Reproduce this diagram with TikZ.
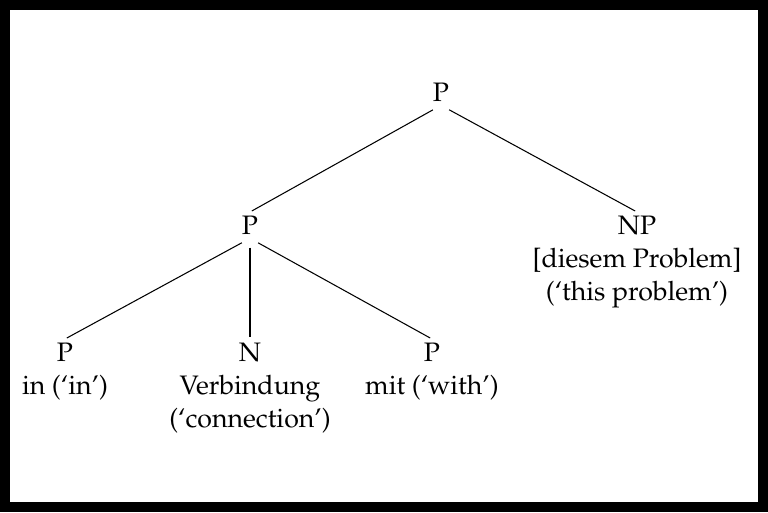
\documentclass[tikz,border=0pt]{standalone}
\usepackage[T1]{fontenc}
\usepackage{mathpazo}
\usepackage{tikz}

\tikzset{
  lbl/.style={anchor=north,align=center,inner sep=2pt,
    font=\fontsize{15.2}{18.8}\selectfont},
  edge/.style={line width=0.6pt,shorten <=5.3pt,shorten >=1.2pt}
}

\begin{document}
\begin{tikzpicture}[x=0.02cm,y=-0.02cm]
\useasboundingbox (0,0) rectangle (768,512);
% frame
\fill[black] (0,0) rectangle (768,512);
\fill[white] (10,10) rectangle (758,502);
% nodes
\node [lbl] (top) at (441,79) {P};
\node [lbl] (pp) at (250,212) {P};
\node [lbl] (np) at (637,212) {NP\\{[}diesem Problem{]}\\(`this problem')};
\node [lbl] (pin) at (65,339) {P\\in (`in')};
\node [lbl] (n) at (250,339) {N\\Verbindung\\(`connection')};
\node [lbl] (pmit) at (432,339) {P\\mit (`with')};
% branches
\draw [edge] (top.south) -- (np.north);
\draw [edge] (top.south) -- (pp.north);
\draw [edge] (pp.south) -- (pin.north);
\draw [edge] (pp.south) -- (n.north);
\draw [edge] (pp.south) -- (pmit.north);
\end{tikzpicture}
\end{document}
